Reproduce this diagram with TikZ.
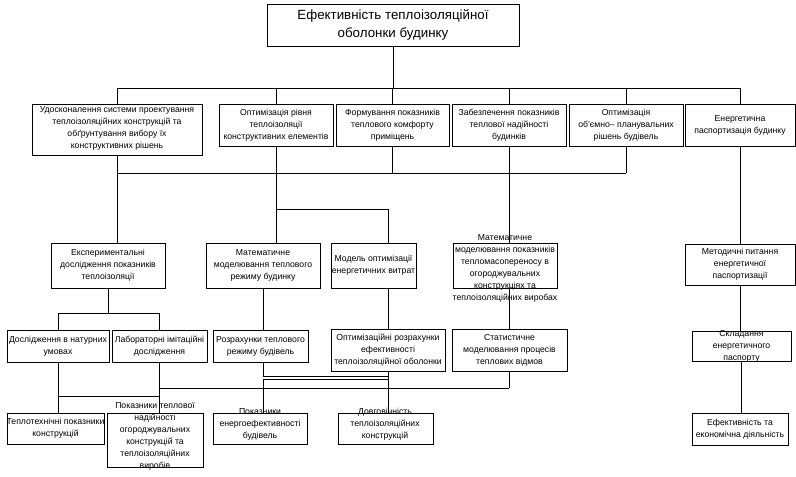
\documentclass[tikz,border=0pt]{standalone}
\usepackage{fontspec}
\setmainfont{Liberation Sans}
\usetikzlibrary{fit}

\tikzset{every picture/.style={line width=0.75pt}}
\tikzset{
  blk/.style={draw, inner sep=0pt},
  lbl/.style={inner sep=0.75pt, align=center, font=\fontsize{6.5}{9}\selectfont},
  ttl/.style={inner sep=0.75pt, align=center, font=\fontsize{10}{13.5}\selectfont}
}

\begin{document}
\begin{tikzpicture}[x=0.75pt,y=0.75pt,yscale=-1,xscale=1]
%set diagram left start at 0, and has height of 476
\useasboundingbox (0,0) rectangle (796,476);

%Shape: Rectangle [title]
\node [blk, fit={(267,4) (519,46)}] (tt) {};
%Shape: Rectangle [level 1]
\node [blk, fit={(32,104) (202,155)}] (b1) {};
\node [blk, fit={(219,104) (333,146)}] (b2) {};
\node [blk, fit={(336,104) (449,146)}] (b3) {};
\node [blk, fit={(452,104) (566,146)}] (b4) {};
\node [blk, fit={(569,104) (683,146)}] (b5) {};
\node [blk, fit={(685,104) (795,146)}] (b6) {};
%Shape: Rectangle [level 2]
\node [blk, fit={(51,243) (165,288)}] (c1) {};
\node [blk, fit={(206,243) (320,288)}] (c2) {};
\node [blk, fit={(331,243) (416,288)}] (c3) {};
\node [blk, fit={(453,243) (557,288)}] (c4) {};
\node [blk, fit={(685,244) (795,285)}] (c5) {};
%Shape: Rectangle [level 3]
\node [blk, fit={(7,330) (109,362)}] (d1) {};
\node [blk, fit={(112,330) (207,362)}] (d2) {};
\node [blk, fit={(213,330) (308,362)}] (d3) {};
\node [blk, fit={(331,329) (445,371)}] (d4) {};
\node [blk, fit={(452,329) (567,371)}] (d5) {};
\node [blk, fit={(692,331) (791,361)}] (d6) {};
%Shape: Rectangle [level 4]
\node [blk, fit={(7,413) (104,444)}] (e1) {};
\node [blk, fit={(107,413) (203,467)}] (e2) {};
\node [blk, fit={(213,413) (307,444)}] (e3) {};
\node [blk, fit={(338,413) (433,444)}] (e4) {};
\node [blk, fit={(692,413) (788,445)}] (e5) {};

%Straight Lines [bus levels]
\coordinate (bus1) at (0,88);
\coordinate (bus2) at (0,173);
\coordinate (brn) at (0,209);
\coordinate (spl1) at (0,313);
\coordinate (spl4) at (0,378);
\coordinate (spl3) at (0,388);
\coordinate (spl2) at (0,396);

\draw (tt.south) -- (tt.south |- bus1);
\draw (b1.north |- bus1) -- (b6.north |- bus1);
\foreach \n in {b1,b2,b3,b4,b5,b6}
  \draw (\n.north |- bus1) -- (\n.north);

\draw (b1.south) -- (b1 |- c1.north);
\draw (b1 |- bus2) -- (b5 |- bus2);
\draw (b3.south) -- (b3 |- bus2);
\draw (b5.south) -- (b5 |- bus2);
\draw (b2.south) -- (b2 |- c2.north);
\draw (b2 |- brn) -| (c3.north -| d4);
\draw (b4.south) -- (b4 |- c4.north);
\draw (b6.south) -- (b6 |- c5.north);

\draw (c1.south) -- (c1 |- spl1);
\draw (d1.north |- spl1) -- (d2.north |- spl1);
\draw (d1 |- spl1) -- (d1.north);
\draw (d2 |- spl1) -- (d2.north);
\draw (c2.south) -- (c2 |- d3.north);
\draw (c3.south -| d4) -- (d4.north);
\draw (b4 |- c4.south) -- (b4 |- d5.north);
\draw (c5.south) -- (c5 |- d6.north);

\draw (d1.south) -- (d1 |- e1.north);
\draw (d2.south) -- (d2 |- e2.north);
\draw (d1 |- spl2) -- (d2 |- spl2);
\draw (c2 |- d3.south) -- (c2 |- e3.north);
\draw (d4.south) -- (d4 |- e4.north);
\draw (d2 |- spl3) -- (b4 |- spl3);
\draw (b4 |- d5.south) -- (b4 |- spl3);
\draw [double, double distance=1.2pt] (c2 |- spl4) -- (d4 |- spl4);
\draw (d6.south) -- (d6 |- e5.north);

% Text Node
\node [ttl] (tt-t) at (tt) {Ефективність теплоізоляційної\\оболонки будинку};
\node [lbl] (b1-t) at (117,128.5) {Удосконалення системи проектування\\теплоізоляційних конструкцій та\\обґрунтування вибору їх\\конструктивних рішень};
\node [lbl] (b2-t) at (b2) {Оптимізація рівня\\теплоізоляції\\конструктивних елементів};
\node [lbl] (b3-t) at (b3) {Формування показників\\теплового комфорту\\приміщень};
\node [lbl] (b4-t) at (b4) {Забезпечення показників\\теплової надійності\\будинків};
\node [lbl] (b5-t) at (b5) {Оптимізація\\об’ємно– планувальних\\рішень будівель};
\node [lbl] (b6-t) at (b6) {Енергетична\\паспортизація будинку};
\node [lbl] (c1-t) at (c1) {Експериментальні\\дослідження показників\\теплоізоляції};
\node [lbl] (c2-t) at (c2) {Математичне\\моделювання теплового\\режиму будинку};
\node [lbl] (c3-t) at (c3) {Модель оптимізації\\енергетичних витрат};
\node [lbl] (c4-t) at (505,268) {Математичне\\моделювання показників\\тепломасопереносу в\\огороджувальних\\конструкціях та\\теплоізоляційних виробах};
\node [lbl] (c5-t) at (c5) {Методичні питання\\енергетичної\\паспортизації};
\node [lbl] (d1-t) at (d1) {Дослідження в натурних\\умовах};
\node [lbl] (d2-t) at (d2) {Лабораторні імітаційні\\дослідження};
\node [lbl] (d3-t) at (d3) {Розрахунки теплового\\режиму будівель};
\node [lbl] (d4-t) at (d4) {Оптимізаційні розрахунки\\ефективності\\теплоізоляційної оболонки};
\node [lbl] (d5-t) at (d5) {Статистичне\\моделювання процесів\\теплових відмов};
\node [lbl] (d6-t) at (d6) {Складання\\енергетичного\\паспорту};
\node [lbl] (e1-t) at (e1) {Теплотехнічні показники\\конструкцій};
\node [lbl] (e2-t) at (155,436) {Показники теплової\\надійності\\огороджувальних\\конструкцій та\\теплоізоляційних\\виробів};
\node [lbl] (e3-t) at (260,424) {Показники\\енергоефективності\\будівель};
\node [lbl] (e4-t) at (385,424) {Довговічність\\теплоізоляційних\\конструкцій};
\node [lbl] (e5-t) at (e5) {Ефективність та\\економічна діяльність};

\end{tikzpicture}
\end{document}
